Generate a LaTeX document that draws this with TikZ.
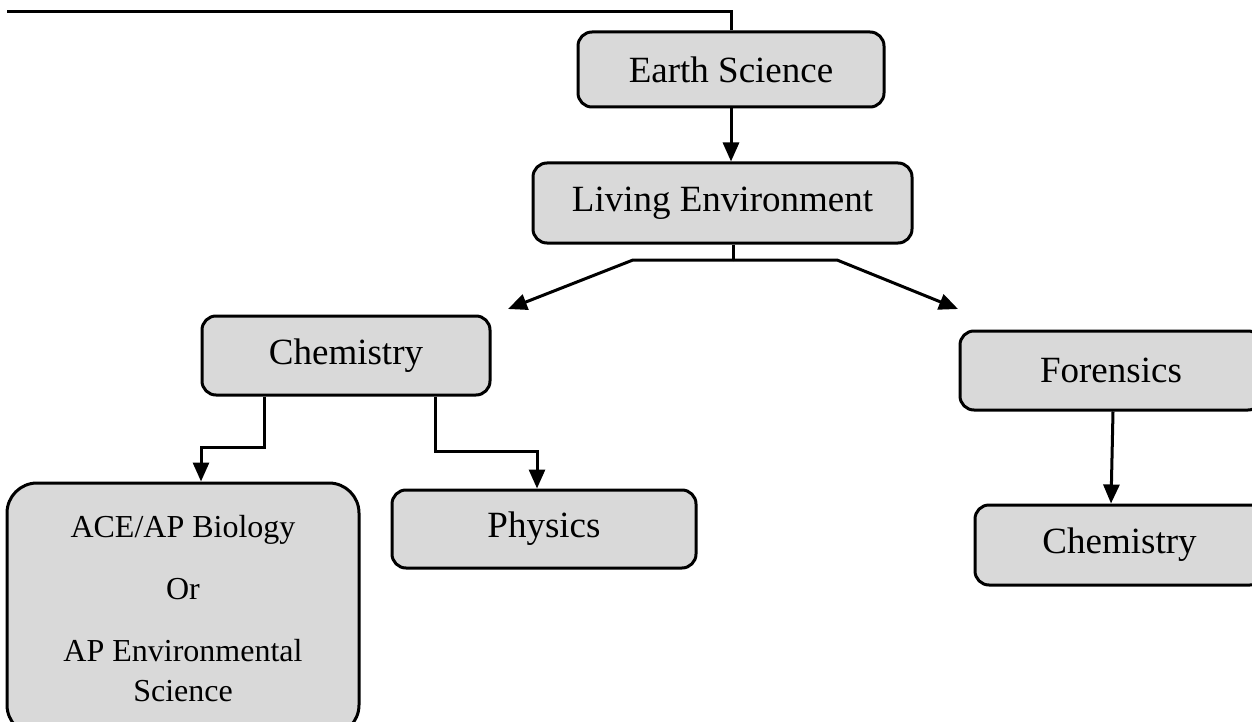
\documentclass[tikz,border=0pt]{standalone}
\usepackage{fontspec}
\setmainfont{Liberation Serif}
\usepackage{xcolor}
\usepackage{tikz}
\usetikzlibrary{arrows.meta, positioning}
\definecolor{boxgray}{HTML}{D9D9D9}
\definecolor{headblue}{HTML}{1F3864}
\tikzset{
  box/.style={rectangle, draw, line width=3pt, rounded corners=14pt, fill=boxgray, minimum height=78pt, align=center, font=\fontsize{37}{44}\selectfont},
  arrow/.style={-{Triangle[length=19pt,width=16pt]}, line width=3pt, line join=miter},
  link/.style={line width=3pt},
}

\begin{document}
\begin{tikzpicture}[x=1pt, y=-1pt]
    \useasboundingbox (0,0) rectangle (1252,722);
    \node[anchor=base west, inner sep=0pt, text=headblue, font=\bfseries\fontsize{32}{38}\selectfont] (heading) at (250,-6) {y};
    \node[box, minimum width=306pt, minimum height=75pt] (earth) at (731,69.5) {Earth Science};
    \node[box, minimum width=379pt, minimum height=80pt] (living) at (722.5,203) {Living Environment};
    \node[box, minimum width=288pt, minimum height=79pt] (chem) at (346,355.5) {Chemistry};
    \node[box, minimum width=302pt, minimum height=79pt] (foren) at (1111,370.5) {Forensics};
    \node[box, minimum width=289pt, minimum height=80pt] (chemr) at (1119.5,545) {Chemistry};
    \node[box, minimum width=304pt, minimum height=78pt] (phys) at (544,529) {Physics};
    \node[box, rounded corners=30pt, minimum width=352pt, minimum height=252pt, font=\fontsize{32}{40}\selectfont] (ace) at (183,609)
      {ACE/AP Biology\\[22pt] Or\\[22pt] AP Environmental\\ Science};
    \coordinate (start) at (7,12);
    \coordinate (split) at (733,260);
    \coordinate (splitL) at (633,260);
    \coordinate (splitR) at (837,260);
    \coordinate (tipL) at (508,309);
    \coordinate (tipR) at (958,309);
    \draw[link] (start) -| (earth.north);
    \draw[arrow] (earth.south) -- (earth.south |- living.north);
    \draw[link] (split |- living.south) -- (split);
    \draw[arrow] (split) -- (splitL) -- (tipL);
    \draw[arrow] (split) -- (splitR) -- (tipR);
    \draw[arrow] ([xshift=-82pt]chem.south) -- ++(0,51) -| ([xshift=18pt]ace.north);
    \draw[arrow] ([xshift=89pt]chem.south) -- ++(0,55) -| ([xshift=-7pt]phys.north);
    \draw[arrow] ([xshift=2pt]foren.south) -- ([xshift=-8.5pt]chemr.north);
  \end{tikzpicture}
\end{document}
